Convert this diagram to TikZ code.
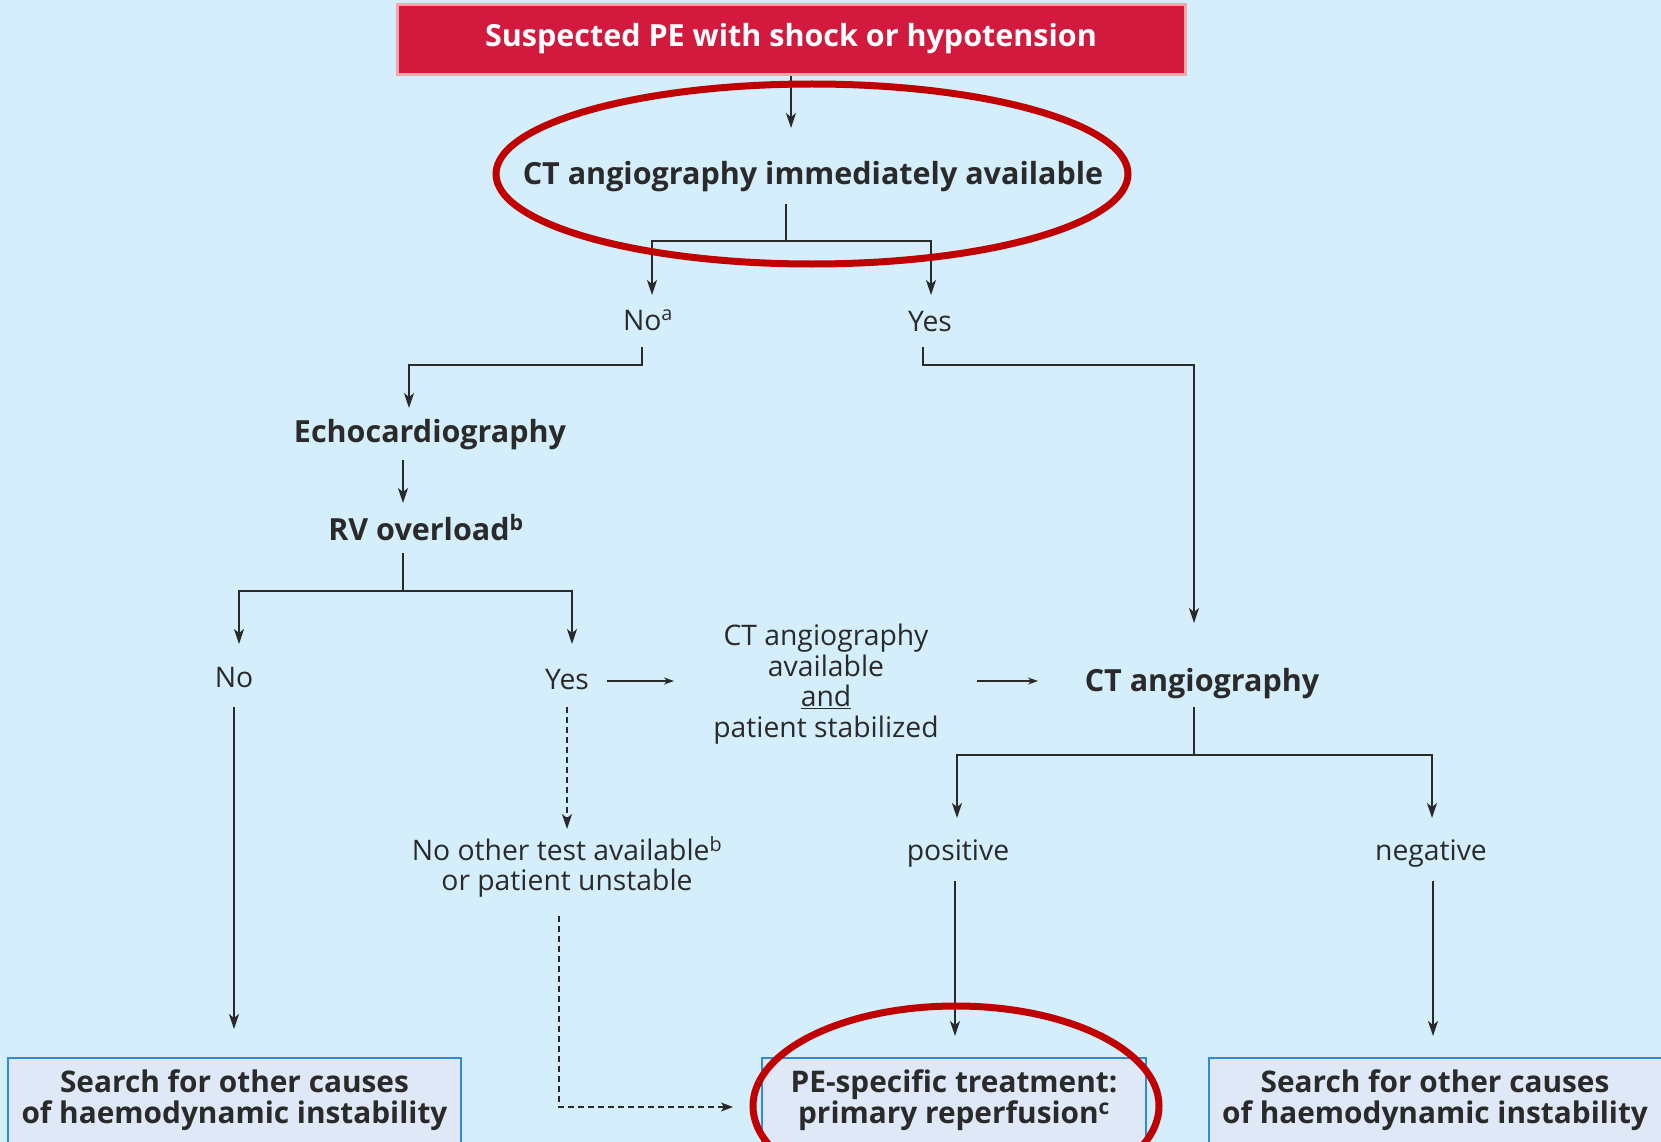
\documentclass[tikz,border=0pt]{standalone}
\usepackage{fontspec}
\setmainfont{Open Sans}
\usetikzlibrary{arrows.meta}
\definecolor{bgblue}{HTML}{D4EEFB}
\definecolor{ink}{HTML}{2A2A2A}
\definecolor{alarm}{HTML}{D4193F}
\definecolor{alarmrim}{HTML}{F4A6A8}
\definecolor{ringred}{HTML}{C00000}
\definecolor{boxfill}{HTML}{DEE8F6}
\definecolor{boxrim}{HTML}{2E8BD6}
\tikzset{
  conn/.style={draw=ink, line width=1.4pt},
  arr/.style={conn, -{Stealth[length=15pt,width=10pt,inset=4pt]}},
  sarr/.style={conn, -{Stealth[length=10pt,width=7pt,inset=3pt]}},
  dashconn/.style={conn, dash pattern=on 6pt off 4pt},
  lbl/.style={text=ink, inner sep=0pt, anchor=base, font=\fontsize{28.3}{31}\selectfont},
  blbl/.style={lbl, font=\bfseries\fontsize{30.5}{31}\selectfont},
  mlbl/.style={text=ink, inner sep=0pt, align=center, font=\fontsize{28.3}{30.5}\selectfont},
  ring/.style={draw=ringred, line width=7pt},
  endbox/.style={draw=boxrim, fill=boxfill, line width=1.5pt, text=ink, align=center,
    inner sep=0pt, text depth=13pt, font=\bfseries\fontsize{29.8}{31}\selectfont},
  boxtext/.style={text=ink, align=center, inner sep=0pt, text depth=13pt,
    font=\bfseries\fontsize{29.8}{31}\selectfont},
  alarmbox/.style={draw=alarmrim, fill=alarm, line width=3pt, text=white, inner sep=0pt,
    text height=20pt, text depth=6pt, font=\bfseries\fontsize{30.5}{31}\selectfont}
}
\begin{document}
\begin{tikzpicture}[x=1pt,y=-1pt]
\useasboundingbox (0,0) rectangle (1661,1142);
\clip (0,0) rectangle (1661,1142);
\fill[bgblue] (0,0) rectangle (1661,1142);

% entry box
\node[alarmbox, minimum width=788pt, minimum height=70pt] (top) at (791,40)
  {Suspected PE with shock or hypotension};

% first decision
\node[blbl] (ctnow) at (813,185) {CT angiography immediately available};
\node[lbl] (noA) at (648,330) {No\textsuperscript{a}};
\node[lbl] (yesA) at (930,331) {Yes};

% echo branch
\node[blbl] (echo) at (430,442) {Echocardiography};
\node[blbl] (rv) at (426,540) {RV overload\textsuperscript{b}};
\node[lbl] (noB) at (234,687) {No};
\node[lbl] (yesB) at (567,689) {Yes};
\node[mlbl] (stab) at (826,684)
  {CT angiography\\available\\\underline{and}\\patient stabilized};
\node[mlbl] (unstab) at (567,867)
  {No other test available\textsuperscript{b}\\or patient unstable};

% CT branch
\node[blbl] (ctang) at (1202,691) {CT angiography};
\node[lbl] (pos) at (958,860) {positive};
\node[lbl] (neg) at (1431,860) {negative};

% outcome boxes
\node[endbox, minimum width=453pt, minimum height=90pt] (other1) at (234.5,1103)
  {Search for other causes\\of haemodynamic instability};
\node[endbox, minimum width=384pt, minimum height=90pt] (treat) at (954,1103)
  {PE-specific treatment:\\primary reperfusion\textsuperscript{c}};
\node[endbox, minimum width=470pt, minimum height=90pt] (other2) at (1444,1103) {};
\node[boxtext] (other2text) at (1435,1103)
  {Search for other causes\\of haemodynamic instability};

% connector end points
\coordinate (ctin) at (791,128);
\coordinate (ctout) at (786,204);
\coordinate (split1) at (786,241);
\coordinate (noAin) at (652,295);
\coordinate (yesAin) at (931,295);
\coordinate (noAout) at (642,347);
\coordinate (yesAout) at (923,347);
\coordinate (echoin) at (409,408);
\coordinate (echoout) at (403,460);
\coordinate (rvin) at (403,503);
\coordinate (rvout) at (403,553);
\coordinate (split2) at (403,591);
\coordinate (noBin) at (239,644);
\coordinate (yesBin) at (572,644);
\coordinate (noBout) at (234,707);
\coordinate (other1in) at (234,1029);
\coordinate (yesBdown) at (567,707);
\coordinate (unstabin) at (567,829);
\coordinate (yesBright) at (607,681);
\coordinate (stabin) at (674,681);
\coordinate (stabout) at (977,681);
\coordinate (ctangin) at (1038,681);
\coordinate (ctangtop) at (1194,623);
\coordinate (ctangout) at (1194,707);
\coordinate (split3) at (1194,755);
\coordinate (posin) at (957,818);
\coordinate (negin) at (1432,818);
\coordinate (posout) at (955,881);
\coordinate (treatin) at (955,1036);
\coordinate (negout) at (1433,881);
\coordinate (other2in) at (1433,1036);
\coordinate (unstabout) at (559,916);
\coordinate (treatleft) at (733,1107);

% connectors
\draw[arr] (top.south) -- (ctin);
\draw[conn] (ctout) -- (split1);
\draw[arr] (split1) -| (noAin);
\draw[arr] (split1) -| (yesAin);
\draw[arr] (noAout) -- ++(0,18) -| (echoin);
\draw[arr] (yesAout) -- ++(0,18) -| (ctangtop);
\draw[arr] (echoout) -- (rvin);
\draw[conn] (rvout) -- (split2);
\draw[arr] (split2) -| (noBin);
\draw[arr] (split2) -| (yesBin);
\draw[arr] (noBout) -- (other1in);
\draw[dashconn, -{Stealth[length=15pt,width=10pt,inset=4pt]}] (yesBdown) -- (unstabin);
\draw[sarr] (yesBright) -- (stabin);
\draw[sarr] (stabout) -- (ctangin);
\draw[conn] (ctangout) -- (split3);
\draw[arr] (split3) -| (posin);
\draw[arr] (split3) -| (negin);
\draw[arr] (posout) -- (treatin);
\draw[arr] (negout) -- (other2in);
\draw[dashconn, -{Stealth[length=12pt,width=9pt,inset=3pt]}] (unstabout) |- (treatleft);

% highlight rings
\draw[ring] (812,174) ellipse [x radius=316, y radius=90];
\draw[ring] (956,1106) ellipse [x radius=203, y radius=100];
\end{tikzpicture}
\end{document}
